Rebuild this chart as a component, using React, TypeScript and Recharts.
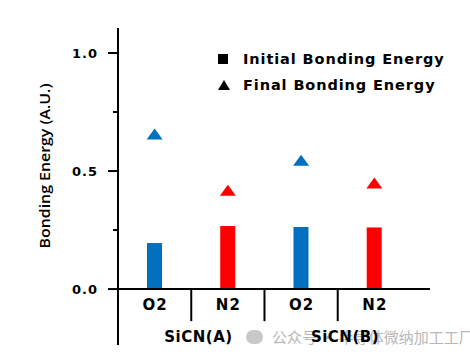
import React from 'react';
import { ComposedChart, Bar, Scatter, XAxis, YAxis, ReferenceLine, ReferenceDot, Cell } from 'recharts';

const categories = ['O2', 'N2', 'O2', 'N2'];
const groups = ['SiCN(A)', 'SiCN(B)'];
const initialEnergy = [0.195, 0.267, 0.263, 0.261];
const finalEnergy = [0.655, 0.417, 0.544, 0.447];
const yTicks = [0, 0.25, 0.5, 0.75, 1.0];
const yTickLabels = ['0.0', '', '0.5', '', '1.0'];
const legendLabels = ['Initial Bonding Energy', 'Final Bonding Energy'];
const yAxisTitle = 'Bonding Energy (A.U.)';
const watermark = '公众号 · 半导体微纳加工工厂';

const COLORS: Record<string, string> = { O2: '#0070C0', N2: '#FF0000' };
const BOLD = '"DejaVu Sans", "Noto Sans", sans-serif';
const FONT = '"Open Sans", "Noto Sans", sans-serif';

const data = categories.map((c, i) => ({
  x: i + 0.5,
  cat: c,
  initial: initialEnergy[i],
  final: finalEnergy[i],
  color: COLORS[c],
}));

const YTick = (props: any) => {
  const { x, y, payload } = props;
  const label = yTickLabels[yTicks.indexOf(payload.value)] ?? '';
  const major = label !== '';
  return (
    <g>
      <line x1={x - (major ? 10 : 5)} x2={x} y1={y} y2={y} stroke="#000" strokeWidth={2} />
      {major && (
        <text x={x - 20} y={y} dy="0.35em" textAnchor="end" fontFamily={BOLD} fontWeight="bold" fontSize={13} letterSpacing={1} fill="#000">
          {label}
        </text>
      )}
    </g>
  );
};

const Triangle = (props: any) => {
  const { cx, cy, payload } = props;
  if (cx == null || cy == null) return null;
  const pts = `${cx},${cy - 6} ${cx - 8},${cy + 5} ${cx + 8},${cy + 5}`;
  return <polygon points={pts} fill={payload.color} />;
};

const TextMark = (text: string, dx: number, size: number, spacing: number) => (props: any) => {
  const { cx, cy } = props;
  return (
    <text x={cx + dx + spacing / 2} y={cy} dy="0.35em" textAnchor="middle" fontFamily={BOLD} fontWeight="bold" fontSize={size} letterSpacing={spacing} fill="#000">
      {text}
    </text>
  );
};

const YTitle = (props: any) => {
  const { viewBox } = props;
  const cx = viewBox.x + 45;
  const cy = viewBox.y + 138;
  return (
    <text
      x={cx}
      y={cy}
      dy="0.35em"
      textAnchor="middle"
      transform={`rotate(-90, ${cx}, ${cy})`}
      fontFamily={FONT}
      fontWeight={600}
      fontSize={15}
      textLength={165}
      lengthAdjust="spacingAndGlyphs"
      fill="#000"
    >
      {yAxisTitle}
    </text>
  );
};

export default function App() {
  return (
    <div style={{ position: 'absolute', left: 0, top: 0, width: 470, height: 360, background: '#fff' }}>
      <div
        style={{
          position: 'absolute',
          left: 246,
          top: 326,
          fontFamily: '"Noto Sans CJK SC", sans-serif',
          fontSize: 15,
          color: '#b8b8b8',
          whiteSpace: 'nowrap',
          display: 'flex',
          alignItems: 'center',
        }}
      >
        <span style={{ display: 'inline-block', width: 17, height: 14, borderRadius: 8, background: '#c8c8c8', marginRight: 9 }} />
        <span>{watermark}</span>
      </div>
      <div style={{ position: 'absolute', left: 0, top: 0 }}>
        <ComposedChart width={470} height={360} data={data} margin={{ top: 28, right: 40, bottom: 15, left: 0 }}>
          <XAxis dataKey="x" type="number" domain={[0, 4.26]} hide />
          <YAxis
            type="number"
            domain={[-0.237, 1.106]}
            ticks={yTicks}
            width={118}
            tickSize={0}
            tickMargin={0}
            tickLine={false}
            axisLine={{ stroke: '#000', strokeWidth: 2 }}
            tick={<YTick />}
            interval={0}
            allowDataOverflow
            label={{ content: <YTitle /> }}
          />
          <ReferenceLine y={0} stroke="#000" strokeWidth={2} />
          {[1, 2, 3].map((b) => (
            <ReferenceLine
              key={'sep' + b}
              segment={[{ x: b, y: 0 }, { x: b, y: -0.136 }]}
              stroke="#000"
              strokeWidth={2}
            />
          ))}
          {data.map((d, i) => (
            <ReferenceDot key={'cl' + i} x={d.x} y={-0.068} r={0} shape={TextMark(d.cat, 0, 15, 1.2)} />
          ))}
          {groups.map((g, gi) => (
            <ReferenceDot key={'gl' + gi} x={gi * 2 + 1} y={-0.203} r={0} shape={TextMark(g, 7, 15, 0.5)} />
          ))}
          <Bar dataKey="initial" barSize={15} isAnimationActive={false}>
            {data.map((d, i) => (
              <Cell key={i} fill={d.color} />
            ))}
          </Bar>
          <Scatter dataKey="final" shape={<Triangle />} isAnimationActive={false} />
        </ComposedChart>
      </div>
      <div style={{ position: 'absolute', left: 214, top: 46, fontFamily: BOLD, fontWeight: 'bold', fontSize: 14.5, letterSpacing: 0.9, color: '#000' }}>
        <div style={{ display: 'flex', alignItems: 'center', height: 26 }}>
          <span style={{ display: 'inline-block', width: 10, height: 10, background: '#000', marginLeft: 4, marginRight: 15 }} />
          <span>{legendLabels[0]}</span>
        </div>
        <div style={{ display: 'flex', alignItems: 'center', height: 26 }}>
          <span style={{ display: 'inline-block', width: 0, height: 0, borderLeft: '6px solid transparent', borderRight: '6px solid transparent', borderBottom: '10px solid #000', marginLeft: 4, marginRight: 13 }} />
          <span>{legendLabels[1]}</span>
        </div>
      </div>
    </div>
  );
}
